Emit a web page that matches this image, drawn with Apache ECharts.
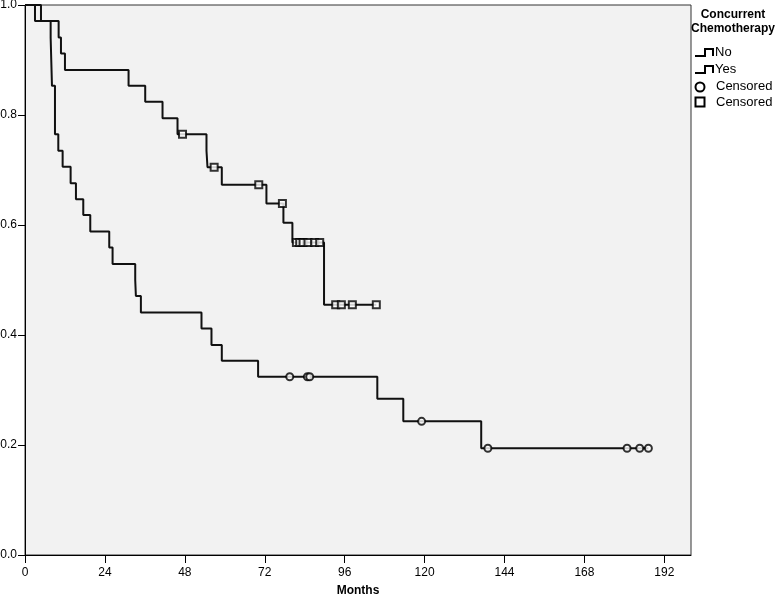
<!DOCTYPE html>
<html>
<head>
<meta charset="utf-8">
<script src="https://cdn.jsdelivr.net/npm/echarts@6/dist/echarts.min.js"></script>
<style>
  html, body { margin: 0; padding: 0; background: #fff; }
  #chart { width: 778px; height: 595px; }
</style>
</head>
<body>
<div id="chart"></div>
<script>
// Kaplan-Meier data (months, survival)
var noTimes = [3.0, 7.7, 8.1, 9.0, 10.0, 11.3, 13.7, 15.3, 17.5, 19.6, 25.3, 26.3, 33.1, 33.3, 34.8, 53.0, 56.0, 59.1, 70.0, 105.8, 113.6, 137.0];
var noSurv = [0.971, 0.941, 0.853, 0.765, 0.735, 0.706, 0.676, 0.647, 0.618, 0.588, 0.559, 0.529, 0.500, 0.471, 0.441, 0.412, 0.382, 0.353, 0.324, 0.284, 0.243, 0.194];
var noCensTimes = [79.5, 84.8, 85.5, 119.1, 139.0, 180.8, 184.6, 187.2];
var noCensSurv = [0.324, 0.324, 0.324, 0.243, 0.194, 0.194, 0.194, 0.194];

var yesTimes = [4.8, 10.1, 10.8, 12.0, 31.1, 36.1, 41.3, 45.8, 54.5, 54.8, 59.1, 72.5, 77.6, 80.3, 89.8];
var yesSurv = [0.971, 0.941, 0.912, 0.882, 0.853, 0.824, 0.794, 0.765, 0.735, 0.705, 0.673, 0.639, 0.604, 0.568, 0.455];
var yesCensTimes = [47.3, 56.8, 70.2, 77.3, 81.5, 82.5, 83.5, 85.0, 87.0, 88.5, 93.3, 95.0, 98.3, 105.5];
var yesCensSurv = [0.765, 0.705, 0.673, 0.639, 0.568, 0.568, 0.568, 0.568, 0.568, 0.568, 0.455, 0.455, 0.455, 0.455];

var xTicks = [0, 24, 48, 72, 96, 120, 144, 168, 192];
var yTicks = [0, 0.2, 0.4, 0.6, 0.8, 1.0];

function kmLine(times, surv, censTimes) {
  var pts = [[0, 1]];
  for (var i = 0; i < times.length; i++) pts.push([times[i], surv[i]]);
  var lastC = Math.max.apply(null, censTimes);
  if (lastC > times[times.length - 1]) pts.push([lastC, surv[surv.length - 1]]);
  return pts;
}
function pairs(a, b) {
  return a.map(function (v, i) { return [v, b[i]]; });
}

var chart = echarts.init(document.getElementById('chart'));
var font = 'Liberation Sans, Arial, sans-serif';

var option = {
  animation: false,
  textStyle: { fontFamily: font },
  grid: {
    left: 25, right: 87, top: 5, bottom: 40,
    outerBoundsMode: 'none',
    show: true, backgroundColor: '#f2f2f2', borderColor: '#333', borderWidth: 1
  },
  xAxis: {
    type: 'value', min: 0, max: 200,
    name: 'Months', nameLocation: 'middle', nameGap: 30,
    nameTextStyle: { color: '#000', fontSize: 12, fontWeight: 'bold', fontFamily: font },
    axisLine: { lineStyle: { color: '#000', width: 1 } },
    axisTick: { customValues: xTicks, length: 8, lineStyle: { color: '#000' } },
    axisLabel: { customValues: xTicks, color: '#000', fontSize: 12, margin: 12 },
    splitLine: { show: false }
  },
  yAxis: {
    type: 'value', min: 0, max: 1, interval: 0.2,
    axisLine: { show: true, lineStyle: { color: '#000', width: 1 } },
    axisTick: { show: true, customValues: yTicks, length: 7, lineStyle: { color: '#000' } },
    axisLabel: {
      customValues: yTicks, color: '#000', fontSize: 12, margin: 8,
      padding: [6, 0, 0, 0],
      formatter: function (v) { return v.toFixed(1); }
    },
    splitLine: { show: false }
  },
  series: [
    {
      name: 'No', type: 'line', step: 'end', symbol: 'none',
      lineStyle: { color: '#111', width: 2 },
      data: kmLine(noTimes, noSurv, noCensTimes)
    },
    {
      name: 'Yes', type: 'line', step: 'end', symbol: 'none',
      lineStyle: { color: '#111', width: 2 },
      data: kmLine(yesTimes, yesSurv, yesCensTimes)
    },
    {
      name: 'Censored', type: 'scatter', symbol: 'circle', symbolSize: 7, z: 5,
      itemStyle: { color: '#fff', borderColor: '#000', borderWidth: 2 },
      data: pairs(noCensTimes, noCensSurv)
    },
    {
      name: 'Censored ', type: 'scatter', symbol: 'rect', symbolSize: 7, z: 5,
      itemStyle: { color: '#fff', borderColor: '#000', borderWidth: 2 },
      data: pairs(yesCensTimes, yesCensSurv)
    }
  ],
  graphic: [
    {
      type: 'text', x: 733, y: 8,
      style: { text: 'Concurrent\nChemotherapy', fill: '#000', font: 'bold 12px ' + font, align: 'center', lineHeight: 14 }
    },
    { type: 'polyline', shape: { points: [[695, 56], [705, 56], [705, 49], [713, 49], [713, 56]] }, style: { stroke: '#000', lineWidth: 2, fill: null } },
    { type: 'text', x: 715, y: 46, style: { text: 'No', fill: '#000', font: '13px ' + font } },
    { type: 'polyline', shape: { points: [[695, 73], [705, 73], [705, 66], [713, 66], [713, 73]] }, style: { stroke: '#000', lineWidth: 2, fill: null } },
    { type: 'text', x: 715, y: 63, style: { text: 'Yes', fill: '#000', font: '13px ' + font } },
    { type: 'circle', shape: { cx: 700, cy: 87, r: 4.5 }, style: { stroke: '#000', lineWidth: 2, fill: '#fff' } },
    { type: 'text', x: 716, y: 80, style: { text: 'Censored', fill: '#000', font: '13px ' + font } },
    { type: 'rect', shape: { x: 695.5, y: 97.5, width: 9, height: 9 }, style: { stroke: '#000', lineWidth: 2, fill: '#fff' } },
    { type: 'text', x: 716, y: 96, style: { text: 'Censored', fill: '#000', font: '13px ' + font } }
  ]
};

chart.setOption(option);
</script>
</body>
</html>
